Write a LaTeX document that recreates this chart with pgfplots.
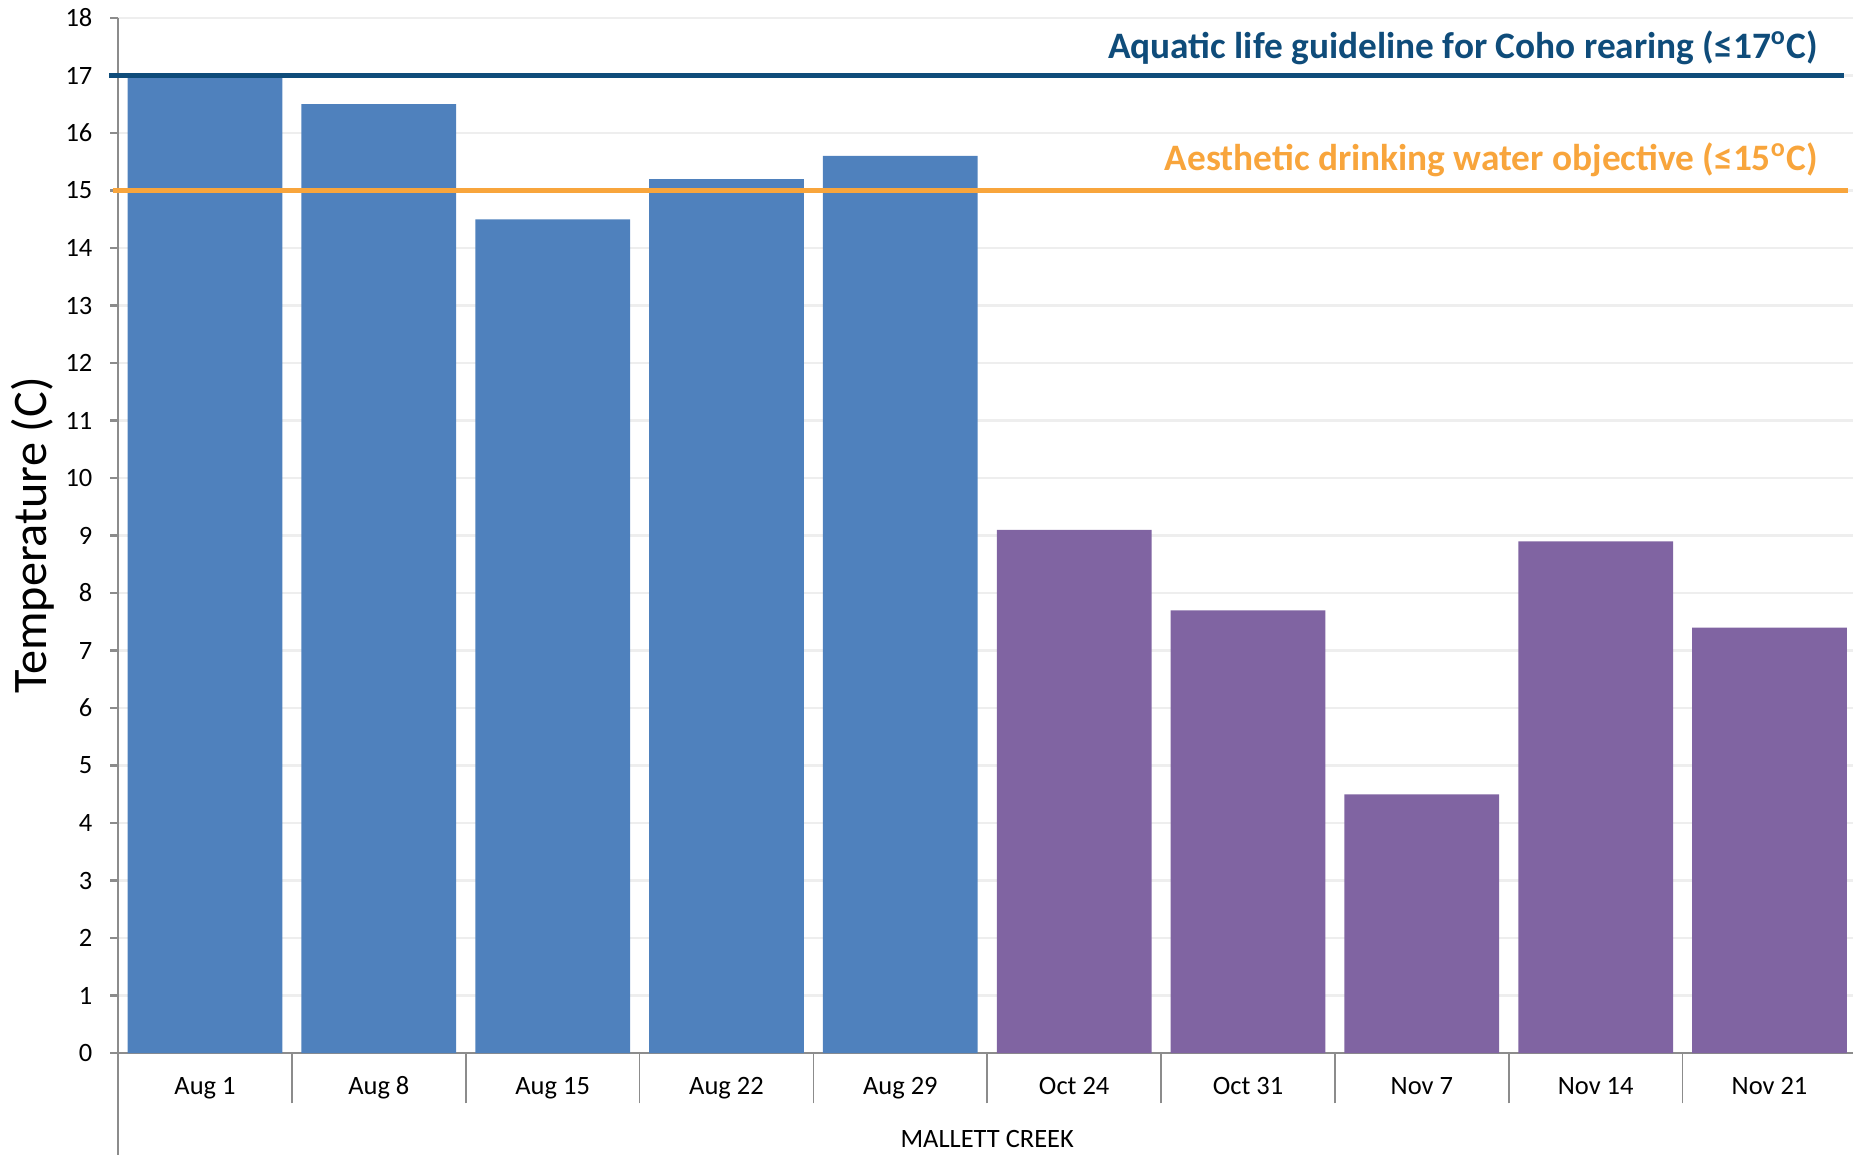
\documentclass[border=0pt]{standalone}
\usepackage{fontspec}
\setmainfont{Carlito}
\usepackage{pgfplots}
\pgfplotsset{compat=1.18}
\definecolor{barblue}{HTML}{4F81BD}
\definecolor{barpurple}{HTML}{8064A2}
\definecolor{lineblue}{HTML}{0F4C7A}
\definecolor{lineorange}{HTML}{F8A53C}
\definecolor{axisgray}{HTML}{8C8C8C}
\definecolor{gridgray}{HTML}{EEEEEE}
\begin{document}
\begin{tikzpicture}
\begin{axis}[
  name=ax,
  scale only axis, width=656.7pt, height=391pt,
  ybar, bar width=0.89, bar shift=0pt,
  xmin=-0.5, xmax=9.5, ymin=0, ymax=18,
  axis lines=left,
  axis line style={-, draw=axisgray, line width=0.8pt},
  xtick={0,...,9},
  xticklabels={Aug 1,Aug 8,Aug 15,Aug 22,Aug 29,Oct 24,Oct 31,Nov 7,Nov 14,Nov 21},
  minor xtick={-0.5,0.5,...,9.5},
  ytick={0,...,18},
  ymajorgrids, grid style={gridgray, line width=0.8pt},
  tick align=outside,
  major tick length=3pt, minor tick length=19pt,
  major x tick style={draw=none},
  minor x tick style={draw=axisgray, line width=0.6pt},
  y tick style={draw=axisgray, line width=0.8pt},
  tick label style={font=\fontsize{10}{12}\selectfont},
  /pgf/number format/assume math mode=true,
  xticklabel style={anchor=base, yshift=-12.8pt},
  yticklabel style={anchor=east, inner sep=0pt, xshift=-6.5pt},
  xlabel={MALLETT CREEK},
  xlabel style={at={(axis description cs:0.5,0)}, anchor=base, yshift=-35.5pt, font=\fontsize{10}{12}\selectfont},
  ylabel={Temperature (C)},
  ylabel style={at={(axis description cs:-0.0488,0.5)}, anchor=center, font=\fontsize{18.2}{21}\selectfont},
  clip=false,
]
\addplot[fill=barblue, draw=none] coordinates {(0,17.0) (1,16.5) (2,14.5) (3,15.2) (4,15.6)};
\addplot[fill=barpurple, draw=none] coordinates {(5,9.1) (6,7.7) (7,4.5) (8,8.9) (9,7.4)};
\addplot[sharp plot, lineblue, line width=1.7pt, forget plot] coordinates {(-0.55,17) (9.43,17)};
\addplot[sharp plot, lineorange, line width=1.7pt, forget plot] coordinates {(-0.53,15) (9.45,15)};
\node[anchor=base east, inner sep=0pt, yshift=6.5pt, text=lineblue, font=\bfseries\fontsize{14.1}{16}\selectfont]
  at (axis cs:9.28,17) {Aquatic life guideline for Coho rearing (≤17\textsuperscript{o}C)};
\node[anchor=base east, inner sep=0pt, yshift=7.5pt, text=lineorange, font=\bfseries\fontsize{14.1}{16}\selectfont]
  at (axis cs:9.28,15) {Aesthetic drinking water objective (≤15\textsuperscript{o}C)};
\draw[axisgray, line width=0.8pt] (axis cs:-0.5,0) -- ++(0pt,-40pt);
\end{axis}
\pgfresetboundingbox
\path[use as bounding box] ([xshift=-44.6pt,yshift=-38.2pt]ax.south west) rectangle ([xshift=-1.3pt,yshift=6.8pt]ax.north east);
\end{tikzpicture}
\end{document}
